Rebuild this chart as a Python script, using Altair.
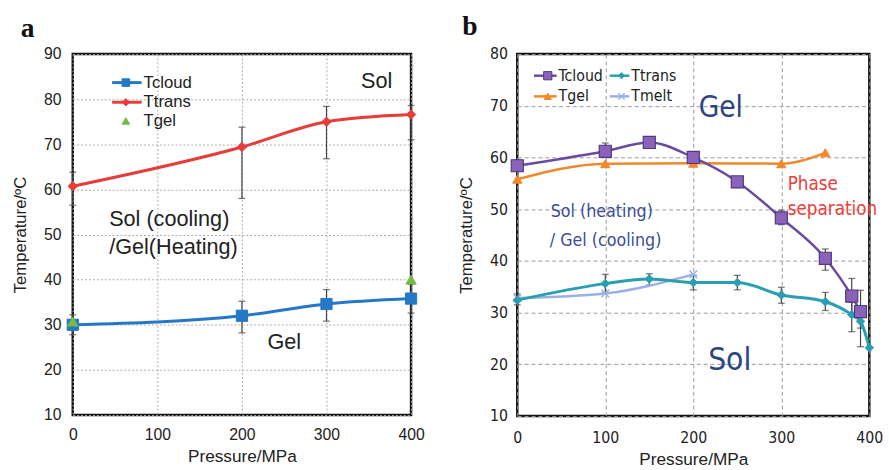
import altair as alt
import pandas as pd

# ---------------- Panel a data ----------------
a_pressure = [0, 200, 300, 400]
a_tcloud = [30.0, 32.0, 34.6, 35.8]
a_tcloud_lo = [27.8, 28.2, 30.8, 32.6]
a_tcloud_hi = [32.2, 35.2, 37.8, 39.0]
a_ttrans = [60.7, 69.4, 75.0, 76.6]
a_ttrans_lo = [56.5, 58.0, 66.8, 71.0]
a_ttrans_hi = [63.8, 73.8, 78.4, 78.6]
a_tgel_pressure = [0, 400]
a_tgel = [30.7, 40.0]
a_series = ["Tcloud", "Ttrans", "Tgel"]
a_texts = ["Sol", "Sol (cooling)", "/Gel(Heating)", "Gel"]
a_xticks = [0, 100, 200, 300, 400]
a_yticks = [10, 20, 30, 40, 50, 60, 70, 80, 90]

# ---------------- Panel b data ----------------
b_tcloud_pressure = [0, 100, 150, 200, 250, 300, 350, 380, 390]
b_tcloud = [58.4, 61.2, 62.9, 60.0, 55.3, 48.3, 40.5, 33.2, 30.2]
b_tcloud_lo = [57.4, 60.0, 61.8, 58.8, 54.2, 47.0, 38.2, 30.0, 27.0]
b_tcloud_hi = [59.5, 62.8, 64.0, 61.0, 56.3, 49.8, 42.3, 36.6, 34.3]
b_ttrans_pressure = [0, 100, 150, 200, 250, 300, 350, 380, 390, 400]
b_ttrans = [32.4, 35.6, 36.5, 35.8, 35.8, 33.4, 32.1, 29.6, 28.3, 23.2]
b_ttrans_lo = [31.5, 33.8, 35.3, 34.4, 34.4, 31.8, 30.4, 26.3, 23.4, 23.2]
b_ttrans_hi = [33.6, 37.4, 37.5, 37.2, 37.2, 34.9, 33.9, 32.0, 31.0, 23.2]
b_tgel_pressure = [0, 100, 200, 300, 350]
b_tgel = [55.8, 58.8, 58.9, 58.8, 60.9]
b_tmelt_pressure = [0, 100, 200]
b_tmelt = [32.8, 33.7, 37.4]
b_series = ["Tcloud", "Ttrans", "Tgel", "Tmelt"]
b_texts = ["Gel", "Phase", "separation", "Sol (heating)", "/ Gel (cooling)", "Sol"]
b_xticks = [0, 100, 200, 300, 400]
b_yticks = [10, 20, 30, 40, 50, 60, 70, 80]

ARIAL = "Liberation Sans, Arial, sans-serif"
NARROW = "'Liberation Sans Narrow', 'Arial Narrow', 'DejaVu Sans Condensed', 'Liberation Sans', sans-serif"
SERIF = "Liberation Serif, serif"
X_SHAPE = "M-1,-1L1,1M-1,1L1,-1"


def make_df(p, t, lo=None, hi=None):
    d = pd.DataFrame({"p": p, "t": t})
    if lo is not None:
        d["lo"] = lo
        d["hi"] = hi
    return d


def enc_factory(xdom, ydom, xticks, yticks, label_font, label_size, grid_dash, grid_color, xpad, ypad):
    xaxis = alt.Axis(values=xticks, labelFont=label_font, labelFontSize=label_size, labelColor="#222",
                     domain=False, ticks=False, labelPadding=xpad, labelFlush=False, grid=True,
                     gridDash=grid_dash, gridColor=grid_color, gridWidth=1, title="Pressure/MPa",
                     titleFont=ARIAL, titleFontSize=17.5, titleFontWeight="normal", titleColor="#222",
                     titlePadding=5)
    yaxis = alt.Axis(values=yticks, labelFont=label_font, labelFontSize=label_size, labelColor="#222",
                     domain=False, ticks=False, labelPadding=ypad, labelFlush=False, grid=True,
                     gridDash=grid_dash, gridColor=grid_color, gridWidth=1, title="Temperature/ºC",
                     titleFont=ARIAL, titleFontSize=17, titleFontWeight="normal", titleColor="#222",
                     titlePadding=14)
    xscale = alt.Scale(domain=xdom, nice=False, zero=False)
    yscale = alt.Scale(domain=ydom, nice=False, zero=False)

    def X(field="p"):
        return alt.X(f"{field}:Q", scale=xscale, axis=xaxis)

    def Y(field="t"):
        return alt.Y(f"{field}:Q", scale=yscale, axis=yaxis)

    return X, Y


def series_layers(df, X, Y, color, width, shape, size, fill, stroke, line=True, filled=True, sw=1):
    layers = []
    if line:
        layers.append(alt.Chart(df).mark_line(color=color, strokeWidth=width, interpolate="monotone")
                      .encode(x=X(), y=Y()))
    if filled:
        pt = alt.Chart(df).mark_point(shape=shape, size=size, filled=True, fill=fill, stroke=stroke,
                                      strokeWidth=sw, opacity=1)
    else:
        pt = alt.Chart(df).mark_point(shape=shape, size=size, filled=False, stroke=stroke,
                                      strokeWidth=sw, opacity=1)
    layers.append(pt.encode(x=X(), y=Y()))
    return layers


def error_layers(df, X, Y, color="#444"):
    d = df[df["hi"] > df["lo"]]
    rule = alt.Chart(d).mark_rule(color=color, strokeWidth=1.2).encode(x=X(), y=Y("lo"), y2="hi:Q")
    cap_lo = alt.Chart(d).mark_tick(orient="horizontal", color=color, size=7, thickness=1.3).encode(x=X(), y=Y("lo"))
    cap_hi = alt.Chart(d).mark_tick(orient="horizontal", color=color, size=7, thickness=1.3).encode(x=X(), y=Y("hi"))
    return [rule, cap_lo, cap_hi]


def text_layer(label, x, y, size, color, font, align="left", weight="normal"):
    return alt.Chart(pd.DataFrame({"label": [label]})).mark_text(
        font=font, fontSize=size, color=color, align=align, baseline="middle", fontWeight=weight
    ).encode(x=alt.value(x), y=alt.value(y), text="label:N")


def legend_item(name, color, shape, size, fill, stroke, x0, x1, xm, xt, y, font, fsize,
                line=True, filled=True, lw=3, sw=1):
    layers = []
    if line:
        layers.append(alt.Chart(pd.DataFrame({"n": [name]})).mark_rule(color=color, strokeWidth=lw)
                      .encode(x=alt.value(x0), x2=alt.value(x1), y=alt.value(y)))
    if filled:
        pt = alt.Chart(pd.DataFrame({"n": [name]})).mark_point(shape=shape, size=size, filled=True, fill=fill,
                                                                 stroke=stroke, strokeWidth=sw, opacity=1)
    else:
        pt = alt.Chart(pd.DataFrame({"n": [name]})).mark_point(shape=shape, size=size, filled=False,
                                                                 stroke=stroke, strokeWidth=sw, opacity=1)
    layers.append(pt.encode(x=alt.value(xm), y=alt.value(y)))
    layers.append(text_layer(name, xt, y, fsize, "#222", font))
    return layers


# ---------------- Panel a ----------------
AX, AY = enc_factory([0, 400], [10, 90], a_xticks, a_yticks, ARIAL, 16, [2, 2], "#aaaaaa", 12, 12)
A_BLUE, A_RED, A_GREEN = "#2478c6", "#e63d3a", "#77bb44"

a_cloud_df = make_df(a_pressure, a_tcloud, a_tcloud_lo, a_tcloud_hi)
a_trans_df = make_df(a_pressure, a_ttrans, a_ttrans_lo, a_ttrans_hi)
a_gel_df = make_df(a_tgel_pressure, a_tgel)

a_layers = []
a_layers += error_layers(a_trans_df, AX, AY)
a_layers += error_layers(a_cloud_df, AX, AY)
a_layers += series_layers(a_trans_df, AX, AY, A_RED, 3, "diamond", 90, A_RED, A_RED)
a_layers += series_layers(a_cloud_df, AX, AY, A_BLUE, 3, "square", 130, A_BLUE, A_BLUE)
a_layers += series_layers(a_gel_df, AX, AY, A_GREEN, 3, "triangle-up", 110, A_GREEN, A_GREEN, line=False)
# legend
a_layers += legend_item(a_series[0], A_BLUE, "square", 60, A_BLUE, A_BLUE, 40, 70, 54, 72, 29, ARIAL, 17)
a_layers += legend_item(a_series[1], A_RED, "diamond", 55, A_RED, A_RED, 40, 70, 54, 72, 49, ARIAL, 17)
a_layers += legend_item(a_series[2], A_GREEN, "triangle-up", 60, A_GREEN, A_GREEN, 40, 70, 54, 72, 68,
                        ARIAL, 17, line=False)
# annotations
a_layers.append(text_layer(a_texts[0], 309, 27, 22, "#222", ARIAL, align="center"))
a_layers.append(text_layer(a_texts[1], 37, 168, 22, "#222", ARIAL))
a_layers.append(text_layer(a_texts[2], 37, 196, 22, "#222", ARIAL))
a_layers.append(text_layer(a_texts[3], 215, 293, 22, "#222", ARIAL, align="center"))
a_layers.append(text_layer("a", -53, -25, 28, "#111", SERIF, weight="bold"))

panel_a = alt.layer(*a_layers).properties(width=344, height=367)

# ---------------- Panel b ----------------
BX, BY = enc_factory([0, 400], [10, 80], b_xticks, b_yticks, NARROW, 16, [4, 3], "#999999", 14, 10)
B_PURPLE, B_PURPLE_FILL, B_TEAL, B_ORANGE, B_LBLUE = "#6a4c9e", "#8a63b8", "#2a9fb0", "#f0892a", "#9cb0e4"

b_cloud_df = make_df(b_tcloud_pressure, b_tcloud, b_tcloud_lo, b_tcloud_hi)
b_trans_df = make_df(b_ttrans_pressure, b_ttrans, b_ttrans_lo, b_ttrans_hi)
b_gel_df = make_df(b_tgel_pressure, b_tgel)
b_melt_df = make_df(b_tmelt_pressure, b_tmelt)

b_layers = []
b_layers += error_layers(b_cloud_df, BX, BY)
b_layers += error_layers(b_trans_df, BX, BY)
b_layers += series_layers(b_melt_df, BX, BY, B_LBLUE, 2.5, X_SHAPE, 60, None, B_LBLUE, filled=False, sw=1.5)
b_layers += series_layers(b_trans_df, BX, BY, B_TEAL, 3, "diamond", 75, B_TEAL, B_TEAL)
b_layers += series_layers(b_gel_df, BX, BY, B_ORANGE, 2.5, "triangle-up", 90, B_ORANGE, B_ORANGE)
b_layers += series_layers(b_cloud_df, BX, BY, B_PURPLE, 2.5, "square", 150, B_PURPLE_FILL, "#4f3a80", sw=1.2)
# legend
b_layers += legend_item(b_series[0], B_PURPLE, "square", 70, B_PURPLE_FILL, "#4f3a80", 17, 40, 31, 42, 22,
                        NARROW, 16, lw=2.5)
b_layers += legend_item(b_series[1], B_TEAL, "diamond", 40, B_TEAL, B_TEAL, 94, 114, 106, 116, 22,
                        NARROW, 16, lw=2.5)
b_layers += legend_item(b_series[2], B_ORANGE, "triangle-up", 55, B_ORANGE, B_ORANGE, 17, 40, 31, 42, 43,
                        NARROW, 16, lw=2.5)
b_layers += legend_item(b_series[3], B_LBLUE, X_SHAPE, 40, None, B_LBLUE, 94, 114, 106, 116, 43,
                        NARROW, 16, filled=False, lw=2.5, sw=1.5)
# annotations
NAVY = "#2d4580"
b_layers.append(text_layer(b_texts[0], 207, 55, 30, NAVY, NARROW, align="center"))
b_layers.append(text_layer(b_texts[1], 275, 132, 19, "#e8403a", NARROW))
b_layers.append(text_layer(b_texts[2], 275, 158, 19, "#e8403a", NARROW))
b_layers.append(text_layer(b_texts[3], 34, 161, 18, "#3b4e92", NARROW))
b_layers.append(text_layer(b_texts[4], 33, 190, 18, "#3b4e92", NARROW))
b_layers.append(text_layer(b_texts[5], 216, 311, 32, NAVY, NARROW, align="center"))
b_layers.append(text_layer("b", -56, -27, 28, "#111", SERIF, weight="bold"))

panel_b = alt.layer(*b_layers).properties(width=358, height=368)

chart = (
    alt.hconcat(panel_a, panel_b, spacing=31)
    .properties(padding={"left": 10, "top": 8, "right": 5, "bottom": 0}, background="white")
    .configure_view(stroke="#111", strokeWidth=2.5)
)

chart.save("out.html", embed_options={"renderer": "svg", "actions": False})
